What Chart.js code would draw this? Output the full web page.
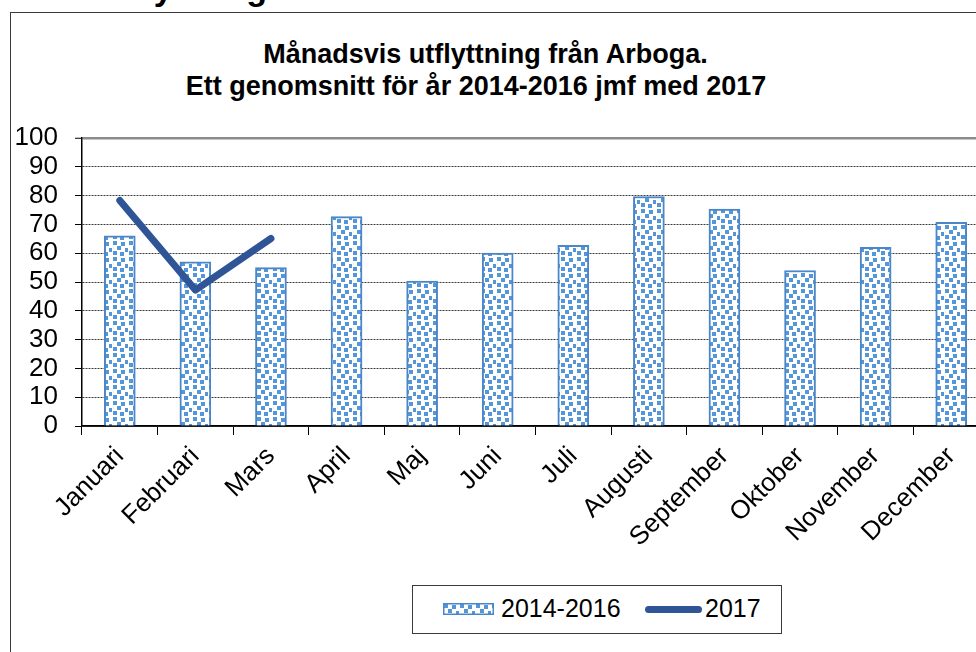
<!DOCTYPE html>
<html>
<head>
<meta charset="utf-8">
<script src="https://cdn.jsdelivr.net/npm/chart.js@4/dist/chart.umd.min.js"></script>
<style>
    body { margin: 0; width: 976px; height: 652px; overflow: hidden; background: #fff; position: relative; font-family: "Liberation Sans", Arial, sans-serif; }
    .frame { position: absolute; left: 10px; top: 12px; width: 1100px; height: 800px; border: 1.5px solid #3a3a3a; }
    .cut { position: absolute; left: 97px; top: -26px; font-size: 34px; line-height: 28px; font-weight: bold; white-space: nowrap; }
    .title { position: absolute; left: 0; text-align: center; font-size: 27px; font-weight: bold; line-height: 32px; white-space: nowrap; }
    .wrap { position: absolute; left: 0; top: 0; width: 1000px; height: 652px; }
    .legend { position: absolute; left: 412px; top: 585px; width: 368px; height: 47px; border: 1.5px solid #3a3a3a; background: #fff; }
    .lt { position: absolute; font-size: 25px; line-height: 25px; white-space: nowrap; }
</style>
</head>
<body>
<div class="frame"></div>
<div class="cut">Utflyttning</div>
<div class="title" style="top: 37.5px; width: 971px;">Månadsvis utflyttning från Arboga.</div>
<div class="title" style="top: 69.5px; width: 952px;">Ett genomsnitt för år 2014-2016 jmf med 2017</div>
<div class="wrap"><canvas id="myChart"></canvas></div>
<div class="legend"></div>
<canvas id="swatch" width="51" height="12" style="position:absolute; left:443px; top:603px;"></canvas>
<div class="lt" style="left: 501px; top: 596px;">2014-2016</div>
<div style="position:absolute; left:645px; top:606px; width:57px; height:7px; border-radius:3.5px; background:#2f5597;"></div>
<div class="lt" style="left: 705px; top: 596px;">2017</div>
<script>
const months = ['Januari', 'Februari', 'Mars', 'April', 'Maj', 'Juni', 'Juli', 'Augusti', 'September', 'Oktober', 'November', 'December'];
const avg1416 = [66, 57, 55, 72.7, 50.3, 60, 62.7, 79.7, 75.3, 54, 62, 70.7];
const year2017 = [78.3, 47.2, 65.1, null, null, null, null, null, null, null, null, null];
const yTicks = [0, 10, 20, 30, 40, 50, 60, 70, 80, 90, 100];

const FONT = '"Liberation Sans", Arial, sans-serif';

// confetti style fill like the Excel pattern
function makePattern() {
    let tile = document.createElement('canvas');
    tile.width = 16;
    tile.height = 16;
    let c = tile.getContext('2d');
    c.fillStyle = '#ffffff';
    c.fillRect(0, 0, 16, 16);
    c.fillStyle = '#5596d8';
    let dots = [[1, 1], [9, 2], [5, 6], [13, 8], [1, 11], [8, 12]];
    for (let d of dots) {
        c.fillRect(d[0], d[1], 4, 4);
    }
    return tile;
}

function drawSwatch(tile) {
    let s = document.getElementById('swatch').getContext('2d');
    s.fillStyle = s.createPattern(tile, 'repeat');
    s.fillRect(0, 0, 51, 12);
    s.strokeStyle = '#4a86c8';
    s.lineWidth = 1.5;
    s.strokeRect(0.75, 0.75, 49.5, 10.5);
}

function drawChart() {
    let tile = makePattern();
    drawSwatch(tile);
    let ctx = document.getElementById('myChart').getContext('2d');
    let pattern = ctx.createPattern(tile, 'repeat');
    new Chart(ctx, {
        data: {
            labels: months,
            datasets: [{
                type: 'line',
                label: '2017',
                data: year2017,
                borderColor: '#2f5597',
                borderWidth: 7,
                borderCapStyle: 'round',
                borderJoinStyle: 'round',
                pointRadius: 0,
                tension: 0,
                order: 0
            }, {
                type: 'bar',
                label: '2014-2016',
                data: avg1416,
                backgroundColor: pattern,
                borderColor: '#4a86c8',
                borderWidth: 2,
                barThickness: 31,
                order: 1
            }]
        },
        options: {
            responsive: true,
            maintainAspectRatio: false,
            animation: false,
            layout: { padding: { top: 138, right: 11, left: 0, bottom: 0 } },
            plugins: {
                legend: { display: false },
                title: { display: false },
                tooltip: { enabled: false }
            },
            scales: {
                x: {
                    offset: true,
                    afterFit: s => { s.height = 226; },
                    grid: {
                        offset: true,
                        drawOnChartArea: false,
                        tickLength: 9,
                        tickColor: '#000',
                        tickWidth: 1
                    },
                    border: { color: '#000', width: 1.5 },
                    ticks: {
                        color: '#000',
                        font: { family: FONT, size: 26 },
                        minRotation: 45,
                        maxRotation: 45,
                        autoSkip: false,
                        padding: 6
                    }
                },
                y: {
                    min: 0,
                    max: 100,
                    afterFit: s => { s.width = 82; },
                    afterBuildTicks: s => { s.ticks = yTicks.map(v => ({ value: v })); },
                    grid: {
                        color: c => (c.tick && c.tick.value === 100) ? '#8c8c8c' : '#3c3c3c',
                        lineWidth: c => (c.tick && c.tick.value === 100) ? 2.5 : 1,
                        tickLength: 7,
                        tickColor: '#000',
                        tickWidth: 1,
                        tickBorderDash: []
                    },
                    border: {
                        color: '#000',
                        width: 1.5,
                        dash: c => (c.tick && c.tick.value !== 100 && c.tick.value !== 0) ? [2, 1] : []
                    },
                    ticks: {
                        color: '#000',
                        font: { family: FONT, size: 26 },
                        autoSkip: false,
                        padding: 17
                    }
                }
            }
        }
    });
}

drawChart();
</script>
</body>
</html>
